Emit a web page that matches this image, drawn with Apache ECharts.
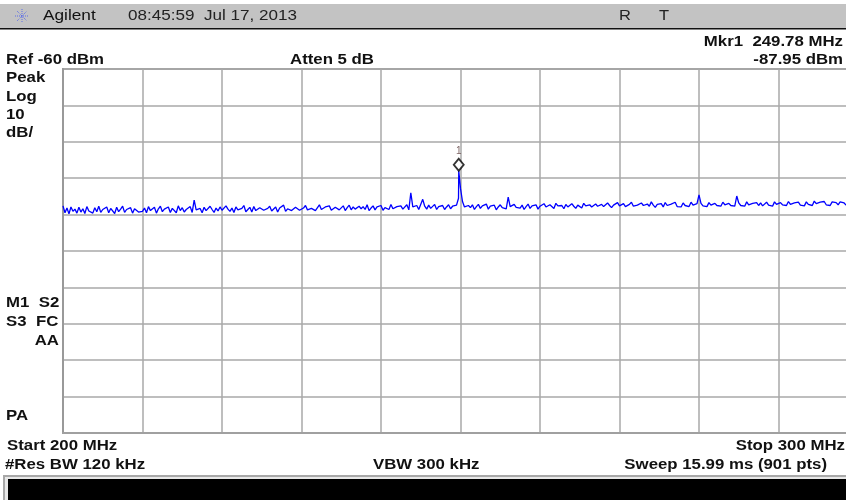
<!DOCTYPE html>
<html>
<head>
<meta charset="utf-8">
<script src="https://cdn.jsdelivr.net/npm/echarts@6/dist/echarts.min.js"></script>
<style>
html,body{margin:0;padding:0;background:#fff;overflow:hidden;width:846px;height:500px;}
#chart{width:860px;height:500px;}
</style>
</head>
<body>
<div id="chart"></div>
<script>
// ---- data ----
const freqStart = 200;    // MHz
const freqStop = 300;     // MHz
const freqStep = 0.25;    // MHz between listed trace samples
const refLevel = -60;     // dBm (top of screen)
const bottomLevel = -160; // dBm (10 dB/div, 10 div)
const traceLevels = [
  -97.6,-99.5,-98.2,-99.8,-97.9,-99.1,-98.5,-99.6,-98.0,-99.3,
  -98.4,-99.7,-97.8,-99.0,-98.9,-99.6,-98.1,-99.2,-97.7,-99.4,
  -98.6,-99.1,-97.9,-99.5,-98.3,-98.8,-99.7,-98.0,-99.2,-98.5,
  -97.7,-99.4,-98.6,-99.0,-98.1,-99.6,-98.4,-97.9,-99.3,-98.8,
  -99.1,-98.2,-99.5,-97.8,-98.9,-99.3,-98.0,-99.6,-98.4,-97.7,
  -99.2,-98.5,-99.0,-97.9,-99.4,-98.3,-98.8,-99.5,-97.6,-98.9,
  -98.1,-99.3,-98.6,-99.0,-97.8,-99.4,-96.0,-98.7,-99.2,-98.3,
  -99.5,-98.0,-98.9,-99.2,-97.7,-98.6,-99.4,-98.2,-99.0,-97.9,
  -98.8,-99.3,-97.6,-98.5,-99.1,-98.2,-99.4,-97.9,-98.7,-99.0,
  -98.3,-97.5,-99.2,-98.6,-98.0,-99.3,-97.8,-98.9,-99.1,-98.1,
  -97.6,-98.8,-99.2,-98.3,-97.7,-99.0,-98.5,-97.9,-99.3,-98.2,
  -98.7,-97.4,-99.1,-98.4,-97.9,-98.9,-99.2,-98.0,-97.6,-98.8,
  -99.0,-98.2,-97.5,-98.7,-99.1,-98.3,-97.8,-98.9,-98.4,-97.3,
  -98.6,-99.0,-97.9,-98.4,-97.6,-98.8,-99.1,-98.0,-97.5,-98.7,
  -98.3,-97.6,-98.9,-98.1,-97.4,-98.7,-97.9,-98.5,-99.0,-97.7,
  -98.4,-97.8,-98.6,-97.3,-98.9,-98.2,-97.6,-98.7,-97.9,-98.3,
  -97.5,-98.8,-98.1,-97.7,-98.6,-97.2,-98.4,-98.9,-97.8,-98.3,
  -97.6,-98.5,-98.0,-97.3,-98.7,-94.0,-97.9,-98.4,-97.5,-98.6,
  -98.1,-95.8,-97.7,-98.5,-97.4,-98.3,-97.9,-97.2,-98.6,-97.8,
  -98.2,-97.5,-98.6,-97.9,-97.3,-98.4,-97.7,-98.1,-97.4,-95.5,
  -92.8,-96.4,-97.9,-98.4,-97.5,-98.1,-97.3,-98.6,-97.8,-97.2,
  -98.3,-97.6,-98.0,-97.1,-98.5,-97.7,-98.2,-97.4,-98.7,-97.9,
  -97.3,-98.1,-97.7,-98.4,-95.2,-97.8,-98.3,-97.2,-98.0,-97.5,
  -98.2,-97.4,-98.6,-97.8,-97.1,-98.3,-97.6,-98.1,-97.3,-98.5,
  -97.7,-98.2,-97.0,-97.9,-98.4,-97.3,-97.8,-98.3,-96.9,-97.6,
  -98.1,-97.5,-98.4,-97.2,-97.9,-98.2,-97.0,-97.7,-98.3,-97.4,
  -97.8,-98.2,-96.9,-97.6,-98.1,-97.3,-97.9,-98.3,-97.1,-97.7,
  -98.0,-97.2,-97.8,-98.2,-96.8,-97.5,-98.1,-97.4,-97.9,-96.7,
  -97.6,-98.1,-97.0,-97.8,-98.0,-97.2,-96.6,-97.7,-98.1,-97.4,
  -97.9,-96.8,-97.5,-98.0,-97.1,-97.7,-96.5,-97.4,-98.0,-97.2,
  -97.7,-97.0,-97.9,-96.7,-97.5,-98.0,-97.1,-97.6,-96.6,-97.8,
  -97.3,-97.9,-96.8,-97.5,-97.0,-97.8,-96.6,-97.4,-97.9,-97.0,
  -94.6,-96.9,-97.6,-97.1,-97.8,-96.7,-97.4,-97.9,-96.9,-97.5,
  -97.0,-97.7,-96.6,-97.3,-97.8,-96.9,-97.5,-97.1,-97.7,-94.9,
  -96.8,-97.5,-97.0,-97.7,-96.5,-97.3,-97.8,-96.9,-97.4,-96.7,
  -97.5,-96.8,-97.6,-97.1,-96.6,-97.4,-97.0,-97.7,-96.5,-97.2,
  -97.6,-96.7,-97.3,-96.9,-97.5,-96.4,-97.2,-97.7,-96.8,-97.1,
  -96.6,-97.4,-96.9,-97.6,-96.5,-97.2,-96.8,-97.5,-96.3,-97.0,
  -97.4,-96.6,-97.1,-96.4,-97.3,-96.9,-97.5,-96.5,-97.0,-96.7,
  -97.3,-96.5,-97.0,-96.8,-97.4,-96.3,-96.9,-97.2,-96.6,-97.1,
  -96.7
];
const markerFreq = 249.78;   // MHz
const markerLevel = -87.95;  // dBm
const markerName = '1';

// ---- build trace pairs ----
const tracePairs = [];
let markerAdded = false;
traceLevels.forEach((v, i) => {
  const f = +(freqStart + i * freqStep).toFixed(2);
  if (!markerAdded && f > markerFreq) {
    tracePairs.push([markerFreq, markerLevel]);
    markerAdded = true;
  }
  tracePairs.push([f, v]);
});

const FONT = '"Liberation Sans", Arial, sans-serif';
const SX = 1.2;
function txt(text, x, y, align, opt) {
  opt = opt || {};
  return {
    type: 'text', x: x, y: y, scaleX: opt.sx || SX, silent: true, z: 100,
    style: {
      text: text, fill: opt.color || '#111', align: align || 'left', verticalAlign: 'middle',
      font: (opt.weight || 'bold') + ' ' + (opt.size || 14) + 'px ' + FONT
    }
  };
}

const graphics = [
  // header bar
  { type: 'rect', shape: { x: 0, y: 4, width: 860, height: 24 }, style: { fill: '#c3c3c3' }, silent: true },
  { type: 'rect', shape: { x: 0, y: 28, width: 860, height: 1.5 }, style: { fill: '#111' }, silent: true },
  // logo
  { type: 'group', x: 22, y: 16, silent: true, children: [
    { type: 'line', shape: { x1: -7, y1: 0, x2: 7, y2: 0 }, style: { stroke: '#5a6de8', lineWidth: 1, lineDash: [1, 1] } },
    { type: 'line', shape: { x1: 0, y1: -7, x2: 0, y2: 7 }, style: { stroke: '#5a6de8', lineWidth: 1, lineDash: [1, 1] } },
    { type: 'line', shape: { x1: -5, y1: -5, x2: 5, y2: 5 }, style: { stroke: '#5a6de8', lineWidth: 1, lineDash: [1, 1] } },
    { type: 'line', shape: { x1: -5, y1: 5, x2: 5, y2: -5 }, style: { stroke: '#5a6de8', lineWidth: 1, lineDash: [1, 1] } }
  ]},
  txt('Agilent', 43, 16, 'left', { weight: 'normal', size: 15, sx: 1.15 }),
  txt('08:45:59  Jul 17, 2013', 128, 16, 'left', { weight: 'normal', size: 14, sx: 1.22, color: '#222' }),
  txt('R', 619, 16, 'left', { weight: 'normal', size: 15, sx: 1.1, color: '#222' }),
  txt('T', 659, 16, 'left', { weight: 'normal', size: 15, sx: 1.1, color: '#222' }),
  // status lines
  txt('Mkr1  249.78 MHz', 843, 42, 'right'),
  txt('Ref -60 dBm', 6, 60, 'left'),
  txt('Atten 5 dB', 290, 60, 'left'),
  txt('-87.95 dBm', 843, 60, 'right'),
  txt('Peak', 6, 78, 'left'),
  txt('Log', 6, 97, 'left'),
  txt('10', 6, 115, 'left'),
  txt('dB/', 6, 133, 'left'),
  txt('M1  S2', 6, 303, 'left'),
  txt('S3  FC', 6, 322, 'left'),
  txt('AA', 59, 341, 'right'),
  txt('PA', 6, 416, 'left'),
  txt('Start 200 MHz', 7, 446, 'left'),
  txt('Stop 300 MHz', 845, 446, 'right'),
  txt('#Res BW 120 kHz', 5, 465, 'left'),
  txt('VBW 300 kHz', 373, 465, 'left'),
  txt('Sweep 15.99 ms (901 pts)', 827, 465, 'right'),
  // bottom bar
  { type: 'rect', shape: { x: 3, y: 475, width: 860, height: 30 }, style: { fill: '#a8a8a8' }, silent: true },
  { type: 'rect', shape: { x: 5, y: 477, width: 860, height: 30 }, style: { fill: '#e8e8e8' }, silent: true },
  { type: 'rect', shape: { x: 8, y: 479, width: 860, height: 30 }, style: { fill: '#000' }, silent: true }
];

const chart = echarts.init(document.getElementById('chart'), null, { renderer: 'canvas' });
chart.setOption({
  animation: false,
  backgroundColor: '#fff',
  grid: { left: 63, top: 69, width: 795, height: 364, show: true, borderColor: '#a0a0a0', borderWidth: 2, backgroundColor: 'transparent' },
  xAxis: {
    type: 'value', min: freqStart, max: freqStop, interval: 10,
    axisLabel: { show: false }, axisTick: { show: false },
    axisLine: { show: true, onZero: false, lineStyle: { color: '#a0a0a0', width: 2 } },
    splitLine: { show: true, lineStyle: { color: '#a8a8a8', width: 1.5 } }
  },
  yAxis: {
    type: 'value', min: bottomLevel, max: refLevel, interval: 10,
    axisLabel: { show: false }, axisTick: { show: false },
    axisLine: { show: true, onZero: false, lineStyle: { color: '#999', width: 2 } },
    splitLine: { show: true, lineStyle: { color: '#a8a8a8', width: 1.5 } }
  },
  series: [
    {
      type: 'line', data: tracePairs, showSymbol: false, symbol: 'none', sampling: null,
      lineStyle: { color: '#0000ff', width: 1.3 }, z: 3, silent: true
    },
    {
      type: 'scatter', data: [[markerFreq, markerLevel]], symbol: 'diamond', symbolSize: [10, 12],
      symbolOffset: [0, -6],
      itemStyle: { color: '#fff', borderColor: '#000', borderWidth: 1.8 },
      label: { show: true, formatter: markerName, position: 'top', distance: 2, fontSize: 10, color: '#5a3a3a', fontFamily: FONT },
      z: 5, silent: true
    }
  ],
  graphic: graphics
});
</script>
</body>
</html>
